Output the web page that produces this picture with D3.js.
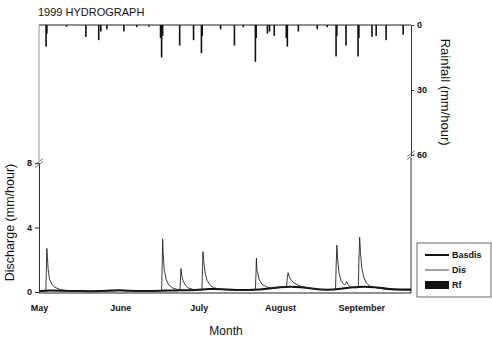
<!DOCTYPE html>
<html>
<head>
<meta charset="utf-8">
<script src="https://cdn.jsdelivr.net/npm/d3@7"></script>
<style>
  body { margin: 0; background: #fff; }
  svg { font-family: "Liberation Sans", Arial, sans-serif; }
  .tick text { font-size: 9px; font-weight: bold; fill: #111; }
</style>
</head>
<body>
<div id="chart"></div>
<script>

// month labels on the x axis
const monthNames = ['May', 'June', 'July', 'August', 'September'];
const monthStarts = ['1999-05-01', '1999-06-01', '1999-07-01', '1999-08-01', '1999-09-01'];

// axis ticks
const disTicks = [0, 4, 8];
const rainTicks = [0, 30, 60];

// discharge (Dis), [days since May 1, mm/hour]
const disDays = [0, 2.6, 2.8, 3.0, 3.2, 3.5, 4, 5, 6, 8, 11, 15, 25, 30, 40, 46.8, 47.0, 47.2, 47.4, 47.8, 48.5, 49.5, 51, 53, 53.8, 54.0, 54.2, 54.5, 55, 56, 57, 59, 62.2, 62.4, 62.6, 62.9, 63.4, 64.2, 65.5, 67, 70, 75, 82.6, 82.8, 83.0, 83.2, 83.5, 84, 85, 86.5, 88, 91, 94.5, 94.8, 95.1, 95.4, 96, 97, 98.5, 100, 103, 107, 113.2, 113.4, 113.7, 114, 114.5, 115.3, 116.5, 117, 117.4, 118, 119, 121, 121.9, 122.1, 122.4, 122.7, 123.2, 124, 125, 126.5, 129, 133, 138, 142];
const disVals = [0.05, 0.05, 1.2, 2.7, 2.2, 1.4, 0.8, 0.45, 0.3, 0.15, 0.08, 0.05, 0.05, 0.08, 0.05, 0.08, 1.5, 3.3, 2.4, 1.4, 0.8, 0.45, 0.25, 0.15, 0.12, 0.8, 1.45, 1.0, 0.7, 0.4, 0.25, 0.15, 0.12, 1.5, 2.5, 1.9, 1.2, 0.7, 0.4, 0.25, 0.15, 0.1, 0.12, 1.0, 2.1, 1.3, 1.2, 0.8, 0.5, 0.35, 0.25, 0.25, 0.35, 0.9, 1.2, 1.0, 0.8, 0.6, 0.45, 0.35, 0.25, 0.15, 0.15, 1.5, 2.9, 2.0, 1.2, 0.7, 0.45, 0.5, 0.65, 0.45, 0.3, 0.25, 0.3, 1.8, 3.4, 2.5, 1.5, 0.9, 0.55, 0.35, 0.25, 0.15, 0.12, 0.1];

// baseflow (Basdis)
const basDays = [0, 4, 8, 15, 25, 28, 31, 34, 40, 47, 52, 60, 65, 70, 75, 82, 87, 92, 96, 100, 105, 110, 115, 120, 124, 128, 133, 138, 142];
const basVals = [0.05, 0.1, 0.08, 0.05, 0.05, 0.1, 0.12, 0.08, 0.05, 0.08, 0.1, 0.12, 0.2, 0.18, 0.12, 0.12, 0.2, 0.3, 0.35, 0.3, 0.2, 0.12, 0.2, 0.3, 0.35, 0.3, 0.2, 0.15, 0.15];

// rainfall (Rf), [days since May 1, mm/hour]
const rainDays = [2.7, 3.0, 10.5, 17.9, 22.8, 23.6, 25.9, 32.4, 37.3, 42.0, 46.4, 46.8, 47.2, 53.7, 59.0, 62.0, 62.3, 69.3, 74.6, 78.0, 82.6, 82.9, 87.2, 88.0, 89.8, 94.4, 94.8, 99.0, 106.2, 110.0, 113.4, 113.7, 117.2, 121.8, 122.1, 127.1, 128.7, 132.5, 139.0];
const rainVals = [10, 4, 0.8, 5.5, 7, 3, 2, 3, 1, 0.8, 6, 15, 5, 9.5, 7, 13, 5, 2, 9.5, 1, 17, 6, 4, 3, 5, 6, 10, 3, 2, 1, 14.5, 5, 9.5, 14.5, 6, 5.5, 5, 7, 4.5];

const W = 492, H = 338;
const margin = {top: 25, right: 81, bottom: 45, left: 39};
const width = W - margin.left - margin.right;
const height = H - margin.top - margin.bottom;

const start = new Date(1999, 4, 1);
const toDate = d => d3.timeMinute.offset(start, Math.round(d * 1440));

const x = d3.scaleTime()
    .domain([start, new Date(1999, 8, 20)])
    .range([0, width]);

// discharge: 0..8 fills the lower half, axis broken at 8
const yDis = d3.scaleLinear()
    .domain([0, 8])
    .range([height - 1, 138]);

// rainfall hangs from the top, axis broken at 60
const yRain = d3.scaleLinear()
    .domain([0, 60])
    .range([0, 130]);

const svg = d3.select('#chart')
    .append('svg')
    .attr('width', W)
    .attr('height', H)
    .append('g')
    .attr('transform', `translate(${margin.left},${margin.top})`);

// title
svg.append('text')
    .attr('x', -1)
    .attr('y', -9)
    .attr('font-size', '11px')
    .attr('fill', '#111')
    .text('1999 HYDROGRAPH');

// frame
svg.append('line').attr('x1', 0).attr('x2', width).attr('y1', 0).attr('y2', 0)
    .attr('stroke', '#222').attr('stroke-width', 1.2);
svg.append('line').attr('x1', 0).attr('x2', width).attr('y1', height).attr('y2', height)
    .attr('stroke', '#222').attr('stroke-width', 1.2);
svg.append('line').attr('x1', 0).attr('x2', 0).attr('y1', 0).attr('y2', yDis(8) - 3)
    .attr('stroke', '#999').attr('stroke-width', 1);
svg.append('line').attr('x1', width).attr('x2', width).attr('y1', yRain(60) + 3).attr('y2', height)
    .attr('stroke', '#333').attr('stroke-width', 1);

// rainfall bars
svg.selectAll('.rain')
    .data(rainDays)
    .enter().append('rect')
    .attr('class', 'rain')
    .attr('x', d => x(toDate(d)) - 0.8)
    .attr('y', 0)
    .attr('width', 1.6)
    .attr('height', (d, i) => yRain(rainVals[i]))
    .attr('fill', '#111');

// Basdis
svg.append('path')
    .datum(basDays)
    .attr('fill', 'none')
    .attr('stroke', '#111')
    .attr('stroke-width', 2)
    .attr('d', d3.line()
        .curve(d3.curveBasis)
        .x(d => x(toDate(d)))
        .y((d, i) => yDis(basVals[i])));

// Dis
svg.append('path')
    .datum(disDays)
    .attr('fill', 'none')
    .attr('stroke', '#222')
    .attr('stroke-width', 0.9)
    .attr('d', d3.line()
        .x(d => x(toDate(d)))
        .y((d, i) => yDis(disVals[i])));

// left axis
svg.append('g')
    .attr('class', 'y axis')
    .call(d3.axisLeft(yDis).tickValues(disTicks).tickSize(4).tickPadding(3))
    .call(g => g.select('.domain').attr('stroke', '#333'))
    .selectAll('line').attr('stroke', '#333');

// right axis
svg.append('g')
    .attr('class', 'y axis')
    .attr('transform', `translate(${width},0)`)
    .call(d3.axisRight(yRain).tickValues(rainTicks).tickSize(3).tickPadding(3))
    .call(g => g.select('.domain').attr('stroke', '#333'))
    .selectAll('line').attr('stroke', '#333');

// axis breaks
function breakMark(cx, cy) {
    [-1.5, 1.5].forEach(o => {
        svg.append('line')
            .attr('x1', cx - 4).attr('y1', cy + 3 + o)
            .attr('x2', cx + 4).attr('y2', cy - 3 + o)
            .attr('stroke', '#555').attr('stroke-width', 0.8);
    });
}
breakMark(0, yDis(8));
breakMark(width, yRain(60));

// x axis
svg.append('g')
    .attr('class', 'x axis')
    .attr('transform', `translate(0,${height})`)
    .call(d3.axisBottom(x)
        .tickValues(monthStarts.map(d => new Date(d + 'T00:00')))
        .tickFormat((d, i) => monthNames[i])
        .tickSize(0)
        .tickPadding(12))
    .call(g => g.select('.domain').remove());

// axis titles
svg.append('text')
    .attr('x', width / 2 + 1)
    .attr('y', height + 42)
    .attr('text-anchor', 'middle')
    .attr('font-size', '12px')
    .attr('fill', '#111')
    .text('Month');

svg.append('text')
    .attr('transform', `translate(-25,${yDis(4) - 5}) rotate(-90)`)
    .attr('text-anchor', 'middle')
    .attr('font-size', '12.5px')
    .attr('fill', '#111')
    .text('Discharge (mm/hour)');

svg.append('text')
    .attr('transform', `translate(${width + 30},${yRain(31)}) rotate(90)`)
    .attr('text-anchor', 'middle')
    .attr('font-size', '13px')
    .attr('fill', '#111')
    .text('Rainfall (mm/hour)');

// legend
const legend = svg.append('g')
    .attr('transform', `translate(${width + 6},${height - 50})`);

legend.append('rect')
    .attr('x', 0).attr('y', 0)
    .attr('width', 74).attr('height', 54)
    .attr('fill', '#fff')
    .attr('stroke', '#444')
    .attr('stroke-width', 0.8);

const legendNames = ['Basdis', 'Dis', 'Rf'];
legendNames.forEach((name, i) => {
    const ly = 12 + i * 15;
    if (name === 'Rf') {
        legend.append('rect').attr('x', 8).attr('y', ly - 4).attr('width', 24).attr('height', 8).attr('fill', '#111');
    } else {
        legend.append('line').attr('x1', 8).attr('x2', 32).attr('y1', ly).attr('y2', ly)
            .attr('stroke', '#111').attr('stroke-width', name === 'Basdis' ? 2 : 0.8);
    }
    legend.append('text')
        .attr('x', 35)
        .attr('y', ly)
        .attr('dy', '.35em')
        .attr('font-size', '9px')
        .attr('font-weight', 'bold')
        .attr('fill', '#111')
        .text(name);
});

</script>
</body>
</html>
